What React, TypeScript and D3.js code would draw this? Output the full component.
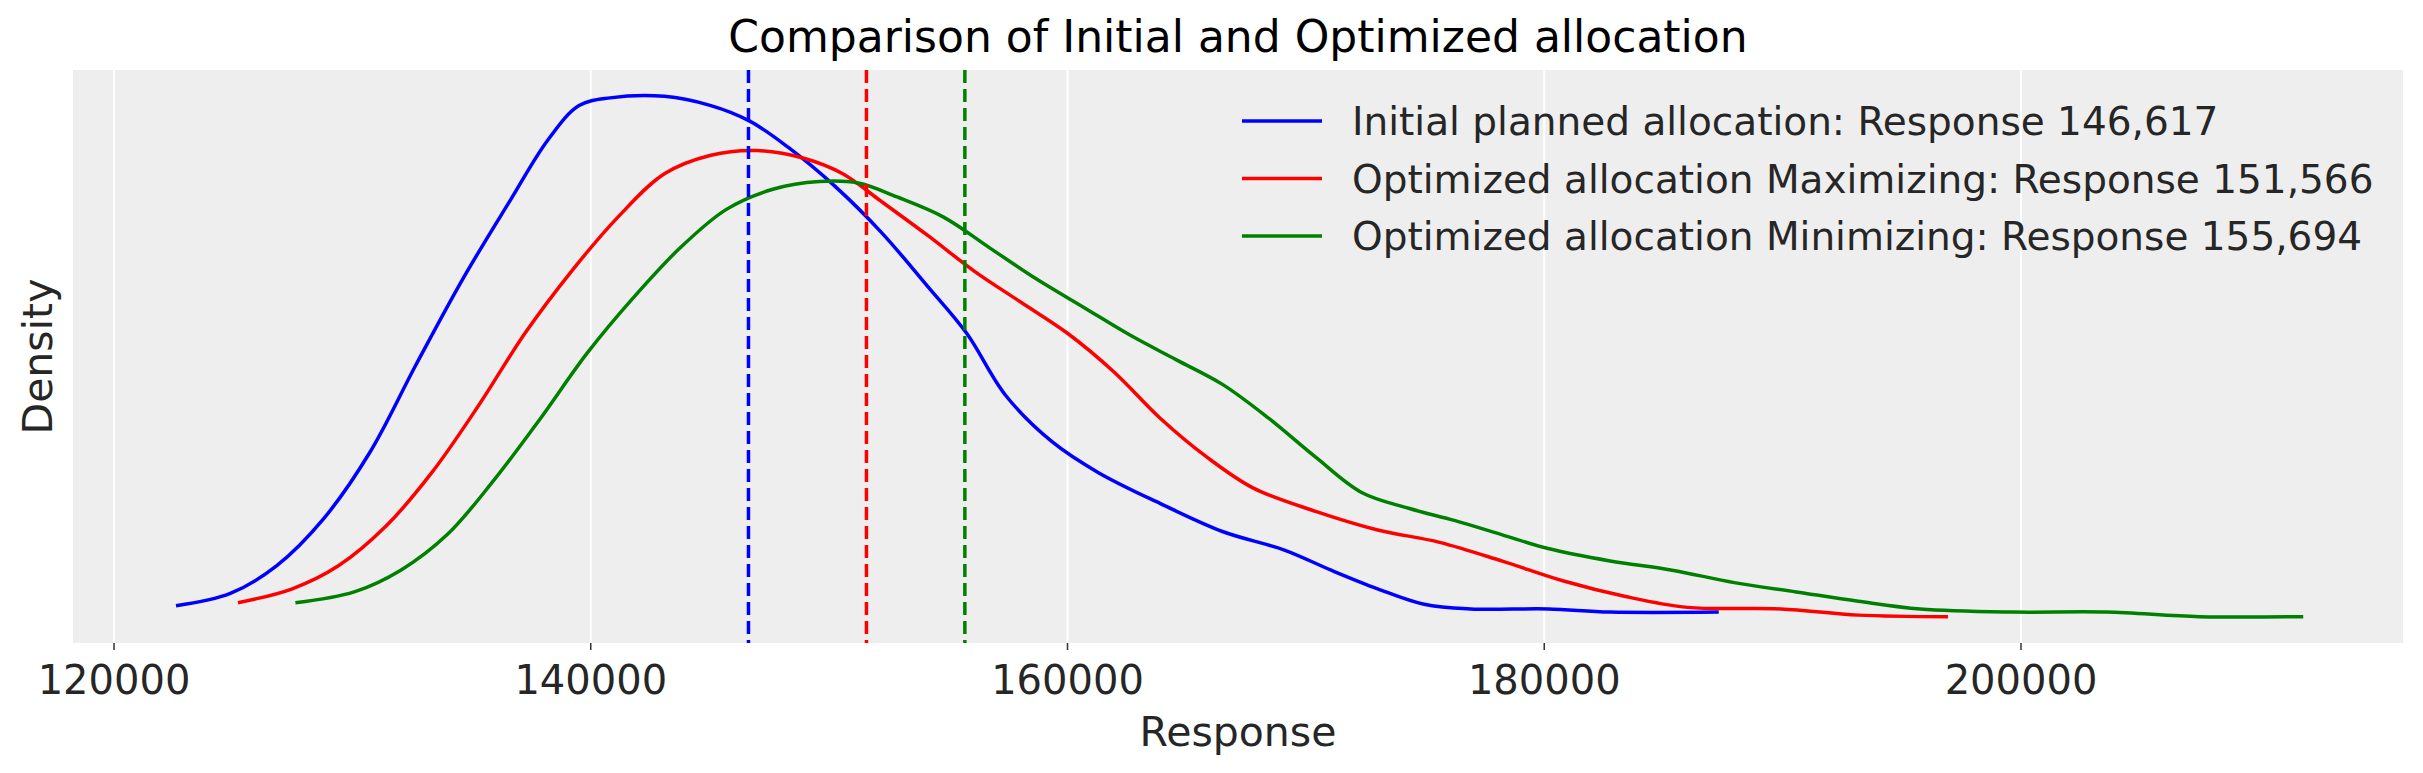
import React from "react";
import * as d3 from "d3";

const blueX = [122600,124880,126830,128780,130730,132680,134630,136590,138210,139510,140810,143090,145040,146670,148290,150240,152200,154150,155770,157400,159350,161300,163900,166500,169100,171060,173010,174960,176910,180160,182760,187320];
const blueY = [0.09,0.17,0.35,0.65,1.08,1.65,2.20,2.70,3.10,3.32,3.37,3.38,3.32,3.22,3.05,2.80,2.50,2.15,1.85,1.45,1.15,0.95,0.75,0.57,0.45,0.32,0.20,0.10,0.07,0.07,0.05,0.05];
const redX = [125200,127480,129430,131380,133330,135280,137240,139190,141140,143090,145040,146990,148940,150570,152200,154150,156100,158050,160000,161950,163900,165850,167800,170410,173010,175610,178210,180810,183410,186020,189920,193170,196940];
const redY = [0.11,0.20,0.35,0.60,0.95,1.38,1.85,2.25,2.60,2.88,3.00,3.03,2.98,2.88,2.70,2.48,2.25,2.05,1.85,1.60,1.30,1.05,0.85,0.70,0.58,0.50,0.38,0.25,0.15,0.08,0.07,0.03,0.02];
const greenX = [127610,130080,132030,133980,135930,137890,139840,141790,143740,145690,147640,149590,151220,152850,154800,156750,158700,160650,162600,164550,166500,168450,170410,172360,174310,176260,178210,180160,182760,185360,187970,190570,193170,195770,199670,203570,207480,211840];
const greenY = [0.11,0.18,0.32,0.55,0.90,1.30,1.72,2.08,2.40,2.65,2.78,2.83,2.82,2.73,2.60,2.40,2.20,2.02,1.84,1.68,1.52,1.30,1.05,0.82,0.72,0.64,0.55,0.46,0.38,0.32,0.24,0.18,0.12,0.07,0.05,0.05,0.02,0.02];
const means = [146617, 151566, 155694];
const colors = ["#0000ff", "#ff0000", "#008000"];
const labels = [
  "Initial planned allocation: Response 146,617",
  "Optimized allocation Maximizing: Response 151,566",
  "Optimized allocation Minimizing: Response 155,694",
];
const xTicks = [120000, 140000, 160000, 180000, 200000];

const W = 2423, H = 773;
const L = 73, R = 2403, T = 70, B = 643;

export default function App() {
  const x = d3.scaleLinear().domain([120000, 200000]).range([114, 2021]);
  const y = d3.scaleLinear().domain([-0.15, 3.55]).range([B, T]);
  const series = [[blueX, blueY], [redX, redY], [greenX, greenY]];
  const line = d3.line<[number, number]>().x(d => x(d[0])).y(d => y(d[1])).curve(d3.curveCatmullRom.alpha(0.5));
  const font = "DejaVu Sans";
  return (
    <svg width={W} height={H} style={{ position: "absolute", left: 0, top: 0 }} fontFamily={font}>
      <rect width={W} height={H} fill="#fff" />
      <rect x={L} y={T} width={R - L} height={B - T} fill="#eeeeee" />
      {xTicks.map(t => (
        <g key={t}>
          <line x1={x(t)} x2={x(t)} y1={T} y2={B} stroke="#fff" strokeWidth={2} />
          <line x1={x(t)} x2={x(t)} y1={B} y2={B + 7} stroke="#333" strokeWidth={1.5} />
          <text x={x(t)} y={694} textAnchor="middle" fontSize={40} fill="#262626">{t}</text>
        </g>
      ))}
      {series.map((s, i) => (
        <path key={i} d={line(s[0].map((v, j) => [v, s[1][j]]) as [number, number][]) || ""} fill="none" stroke={colors[i]} strokeWidth={3.5} />
      ))}
      {means.map((m, i) => (
        <line key={m} x1={x(m)} x2={x(m)} y1={T} y2={B} stroke={colors[i]} strokeWidth={3.5} strokeDasharray="13,6" />
      ))}
      {labels.map((lab, i) => (
        <g key={lab}>
          <line x1={1242} x2={1322} y1={121 + i * 57.5} y2={121 + i * 57.5} stroke={colors[i]} strokeWidth={3.5} />
          <text x={1352} y={121 + i * 57.5 + 14} fontSize={39} fill="#262626">{lab}</text>
        </g>
      ))}
      <text x={(L + R) / 2} y={52} textAnchor="middle" fontSize={44} fill="#000">Comparison of Initial and Optimized allocation</text>
      <text x={(L + R) / 2} y={746} textAnchor="middle" fontSize={41} fill="#262626">Response</text>
      <text transform={`translate(52,${(T + B) / 2}) rotate(-90)`} textAnchor="middle" fontSize={41} fill="#262626">Density</text>
    </svg>
  );
}
